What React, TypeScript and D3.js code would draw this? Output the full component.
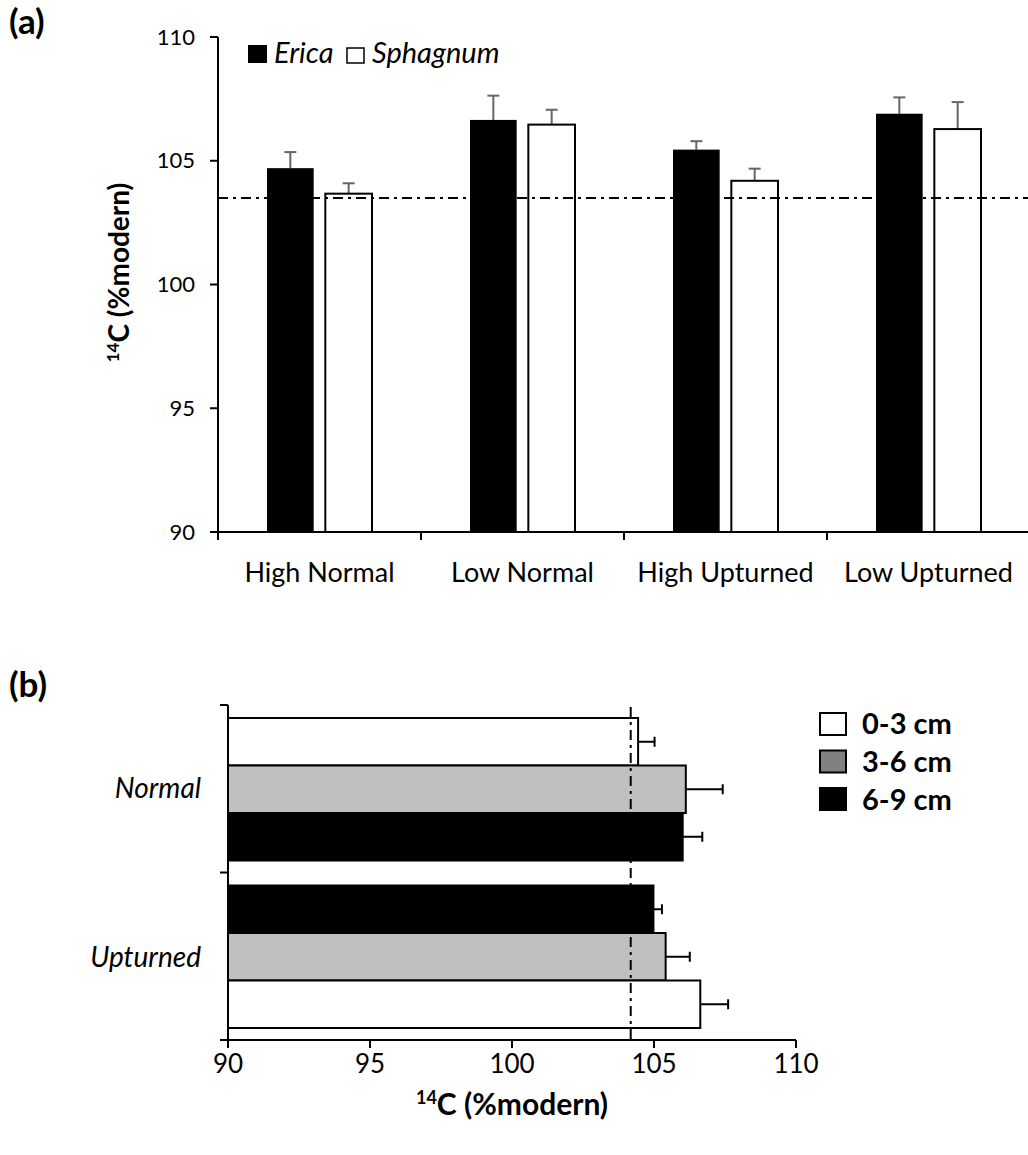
import * as d3 from "d3";
import React from "react";

// panel (a) data
const categoriesA = ["High Normal", "Low Normal", "High Upturned", "Low Upturned"];
const seriesA = ["Erica", "Sphagnum"];
const ericaMean = [104.7, 106.65, 105.45, 106.9];
const ericaErr = [0.65, 0.98, 0.34, 0.66];
const sphagnumMean = [103.67, 106.46, 104.19, 106.28];
const sphagnumErr = [0.42, 0.6, 0.49, 1.09];
const referenceA = 103.5;
const ticksA = [90, 95, 100, 105, 110];

// panel (b) data
const sitesB = ["Normal", "Upturned"];
const depths = ["0-3 cm", "3-6 cm", "6-9 cm"];
const normalMean = [104.44, 106.12, 106.01];
const normalErr = [0.58, 1.3, 0.69];
const upturnedMean = [106.63, 105.41, 104.98];
const upturnedErr = [0.98, 0.85, 0.3];
// top-to-bottom order of the depth bars inside each site
const orderNormal = ["0-3 cm", "3-6 cm", "6-9 cm"];
const orderUpturned = ["6-9 cm", "3-6 cm", "0-3 cm"];
const referenceB = 104.18;
const ticksB = [90, 95, 100, 105, 110];

const FONT = "Lato, 'Open Sans', sans-serif";
const depthFill = { "0-3 cm": "#ffffff", "3-6 cm": "#c0c0c0", "6-9 cm": "#000000" };
const legendFill = { "0-3 cm": "#ffffff", "3-6 cm": "#808080", "6-9 cm": "#000000" };

const PanelA = () => {
  const y = d3.scaleLinear().domain([90, 110]).range([532, 37]);
  const x0 = d3.scaleBand().domain(categoriesA).range([218, 1030]);
  const x1 = d3.scaleBand().domain(seriesA).range([49, 154]).paddingInner(0.2);
  const rows = categoriesA.map((c, i) => ({
    cat: c,
    bars: [
      { s: "Erica", v: ericaMean[i], e: ericaErr[i] },
      { s: "Sphagnum", v: sphagnumMean[i], e: sphagnumErr[i] },
    ],
  }));
  const bw = x1.bandwidth();
  return (
    <g>
      <text x={9} y={34} fontSize={35} fontWeight="bold" fontFamily={FONT}>(a)</text>

      {rows.map((r) =>
        r.bars.map((b) => {
          const bx = x0(r.cat) + x1(b.s);
          const cx = bx + bw / 2;
          return (
            <g key={r.cat + b.s}>
              <line x1={cx} x2={cx} y1={y(b.v)} y2={y(b.v + b.e)} stroke="#666" strokeWidth={2} />
              <line x1={cx - 6} x2={cx + 6} y1={y(b.v + b.e)} y2={y(b.v + b.e)} stroke="#666" strokeWidth={2} />
              <rect
                x={bx}
                y={y(b.v)}
                width={bw}
                height={y(90) - y(b.v)}
                fill={b.s === "Erica" ? "#000" : "#fff"}
                stroke="#000"
                strokeWidth={b.s === "Erica" ? 0 : 2}
              />
            </g>
          );
        })
      )}

      {/* reference line */}
      <line x1={218} x2={1028} y1={y(referenceA)} y2={y(referenceA)} stroke="#000" strokeWidth={2} strokeDasharray="10,5,3,5" />

      {/* y axis */}
      <line x1={218} x2={218} y1={y(110)} y2={y(90)} stroke="#000" strokeWidth={2} />
      {ticksA.map((t) => (
        <g key={t}>
          <line x1={210} x2={218} y1={y(t)} y2={y(t)} stroke="#000" strokeWidth={2} />
          <text x={195} y={y(t)} dy="0.35em" textAnchor="end" fontSize={22} fontFamily={FONT}>{t}</text>
        </g>
      ))}
      <text transform={`translate(129,${(37 + 532) / 2 - 12}) rotate(-90)`} textAnchor="middle" fontSize={28} fontWeight="bold" fontFamily={FONT}>
        <tspan fontSize={17} dy={-10}>14</tspan>
        <tspan dy={10}>C (%modern)</tspan>
      </text>

      {/* x axis */}
      <line x1={218} x2={1030} y1={y(90)} y2={y(90)} stroke="#000" strokeWidth={2} />
      {categoriesA.map((c) => (
        <g key={c}>
          <line x1={x0(c)} x2={x0(c)} y1={532} y2={540} stroke="#000" strokeWidth={2} />
          <text x={x0(c) + x0.bandwidth() / 2} y={582} textAnchor="middle" fontSize={27} fontFamily={FONT}>{c}</text>
        </g>
      ))}

      {/* legend */}
      <rect x={248} y={45} width={19} height={18} fill="#000" />
      <text x={274} y={63} fontSize={29} fontStyle="italic" fontFamily={FONT}>{seriesA[0]}</text>
      <rect x={347} y={48} width={17} height={15} fill="#fff" stroke="#000" strokeWidth={1.5} />
      <text x={372} y={63} fontSize={29} fontStyle="italic" fontFamily={FONT}>{seriesA[1]}</text>
    </g>
  );
};

const PanelB = () => {
  const x = d3.scaleLinear().domain([90, 110]).range([228, 796]);
  const y0 = d3.scaleBand().domain(sitesB).range([705, 1040]);
  const y1 = d3.scaleBand().domain(["p0", "p1", "p2"]).range([13, 155.5]);
  const rows = [
    { site: "Normal", order: orderNormal, mean: normalMean, err: normalErr },
    { site: "Upturned", order: orderUpturned, mean: upturnedMean, err: upturnedErr },
  ];
  const bh = y1.bandwidth();
  return (
    <g>
      <text x={9} y={697} fontSize={35} fontWeight="bold" fontFamily={FONT}>(b)</text>

      {rows.map((r) =>
        r.order.map((d, k) => {
          const di = depths.indexOf(d);
          const v = r.mean[di];
          const e = r.err[di];
          const by = y0(r.site) + y1("p" + k);
          const cy = by + bh / 2;
          return (
            <g key={r.site + d}>
              <rect x={x(90)} y={by} width={x(v) - x(90)} height={bh} fill={depthFill[d]} stroke="#000" strokeWidth={2} />
              <line x1={x(v)} x2={x(v + e)} y1={cy} y2={cy} stroke="#000" strokeWidth={2} />
              <line x1={x(v + e)} x2={x(v + e)} y1={cy - 5} y2={cy + 5} stroke="#000" strokeWidth={2} />
            </g>
          );
        })
      )}

      {/* reference line */}
      <line x1={x(referenceB)} x2={x(referenceB)} y1={707} y2={1040} stroke="#000" strokeWidth={2} strokeDasharray="10,5,3,5" />

      {/* y axis */}
      <line x1={228} x2={228} y1={705} y2={1040} stroke="#000" strokeWidth={2} />
      {[705, y0("Upturned"), 1040].map((t) => (
        <line key={t} x1={220} x2={228} y1={t} y2={t} stroke="#000" strokeWidth={2} />
      ))}
      {sitesB.map((s) => (
        <text key={s} x={201} y={s === "Normal" ? 798 : 967} textAnchor="end" fontSize={28} fontStyle="italic" fontFamily={FONT}>{s}</text>
      ))}

      {/* x axis */}
      <line x1={228} x2={796} y1={1040} y2={1040} stroke="#000" strokeWidth={2} />
      {ticksB.map((t) => (
        <g key={t}>
          <line x1={x(t)} x2={x(t)} y1={1040} y2={1048} stroke="#000" strokeWidth={2} />
          <text x={x(t)} y={1073} textAnchor="middle" fontSize={26} fontFamily={FONT}>{t}</text>
        </g>
      ))}
      <text x={512} y={1115} textAnchor="middle" fontSize={30} fontWeight="bold" fontFamily={FONT}>
        <tspan fontSize={18} dy={-11}>14</tspan>
        <tspan dy={11}>C (%modern)</tspan>
      </text>

      {/* legend */}
      {depths.map((d, i) => (
        <g key={d}>
          <rect x={820} y={713 + i * 37.5} width={26} height={22} fill={legendFill[d]} stroke="#000" strokeWidth={2} />
          <text x={862} y={734 + i * 38} fontSize={29} fontWeight="bold" fontFamily={FONT}>{d}</text>
        </g>
      ))}
    </g>
  );
};

const App = () => (
  <svg width={1028} height={1155} style={{ position: "absolute", left: 0, top: 0, background: "#fff" }}>
    <rect width={1028} height={1155} fill="#fff" />
    <PanelA />
    <PanelB />
  </svg>
);

export default App;
